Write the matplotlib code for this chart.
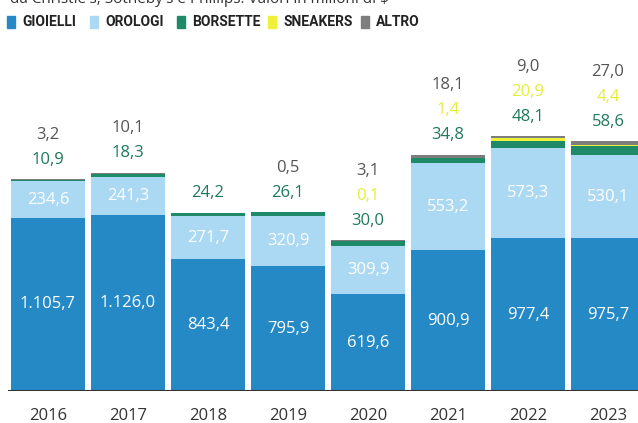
import matplotlib.pyplot as plt
from matplotlib.patches import Rectangle
import numpy as np

plt.rcParams['font.family'] = ['Open Sans', 'DejaVu Sans']

anni = ["2016", "2017", "2018", "2019", "2020", "2021", "2022", "2023"]
gioielli = [1105.7, 1126.0, 843.4, 795.9, 619.6, 900.9, 977.4, 975.7]
orologi = [234.6, 241.3, 271.7, 320.9, 309.9, 553.2, 573.3, 530.1]
borsette = [10.9, 18.3, 24.2, 26.1, 30.0, 34.8, 48.1, 58.6]
sneakers = [0, 0, 0, 0, 0.1, 1.4, 20.9, 4.4]
altro = [3.2, 10.1, 0, 0.5, 3.1, 18.1, 9.0, 27.0]

nomi = ["GIOIELLI", "OROLOGI", "BORSETTE", "SNEAKERS", "ALTRO"]
colori = ["#2589c6", "#abd9f3", "#1e8a68", "#eef03a", "#7d7d7d"]
col_testo = ["white", "white", "#1e7a5a", "#e4ee3c", "#555555"]


def fmt(v):
    s = f"{v:,.1f}"
    return s.replace(",", "X").replace(".", ",").replace("X", ".")


fig = plt.figure(figsize=(6.38, 4.23), dpi=100)
ax = fig.add_axes([8 / 638, 32 / 423, 630 / 638, 351 / 423])

x = np.arange(len(anni))
serie = [gioielli, orologi, borsette, sneakers, altro]
bottom = np.zeros(len(anni))
for vals, c in zip(serie, colori):
    ax.bar(x, vals, width=0.92, bottom=bottom, color=c, linewidth=0)
    bottom += np.array(vals)

for i in x:
    ax.text(i, gioielli[i] / 2, fmt(gioielli[i]), ha="center", va="center",
            color="white", fontsize=12)
    ax.text(i, gioielli[i] + orologi[i] / 2, fmt(orologi[i]), ha="center",
            va="center", color="white", fontsize=12)
    # valori piccoli sopra la barra
    off = 14
    for vals, c in zip([borsette, sneakers, altro], col_testo[2:]):
        if vals[i] > 0:
            ax.annotate(fmt(vals[i]), (i, bottom[i]), xytext=(0, off),
                        textcoords="offset points", ha="center", va="center",
                        color=c, fontsize=12)
            off += 18

ax.axhline(0, color="#333333", lw=1.5)
ax.set_xlim(-0.5, 7.375)
ax.set_ylim(0, 351 / 0.1565)
ax.set_xticks(x)
ax.set_xticklabels(anni, fontsize=12, color="#333333")
ax.tick_params(axis="x", length=0, pad=12)
ax.set_yticks([])
for s in ax.spines.values():
    s.set_visible(False)

# legenda
lx = [7, 90, 177, 268, 361]
for px, nome, c in zip(lx, nomi, colori):
    fig.patches.append(Rectangle((px / 638, (423 - 28) / 423), 8 / 638, 12 / 423,
                                 transform=fig.transFigure, color=c))
    fig.text((px + 15) / 638, (423 - 22) / 423, nome, fontsize=10,
             fontweight="bold", color="#222222", va="center",
             family=["Roboto", "DejaVu Sans"])

fig.text(10 / 638, (423 - 3) / 423,
         "da Christie's, Sotheby's e Phillips. Valori in milioni di $",
         fontsize=11, color="#333333", va="baseline")

fig.savefig("out.png", dpi=100)
